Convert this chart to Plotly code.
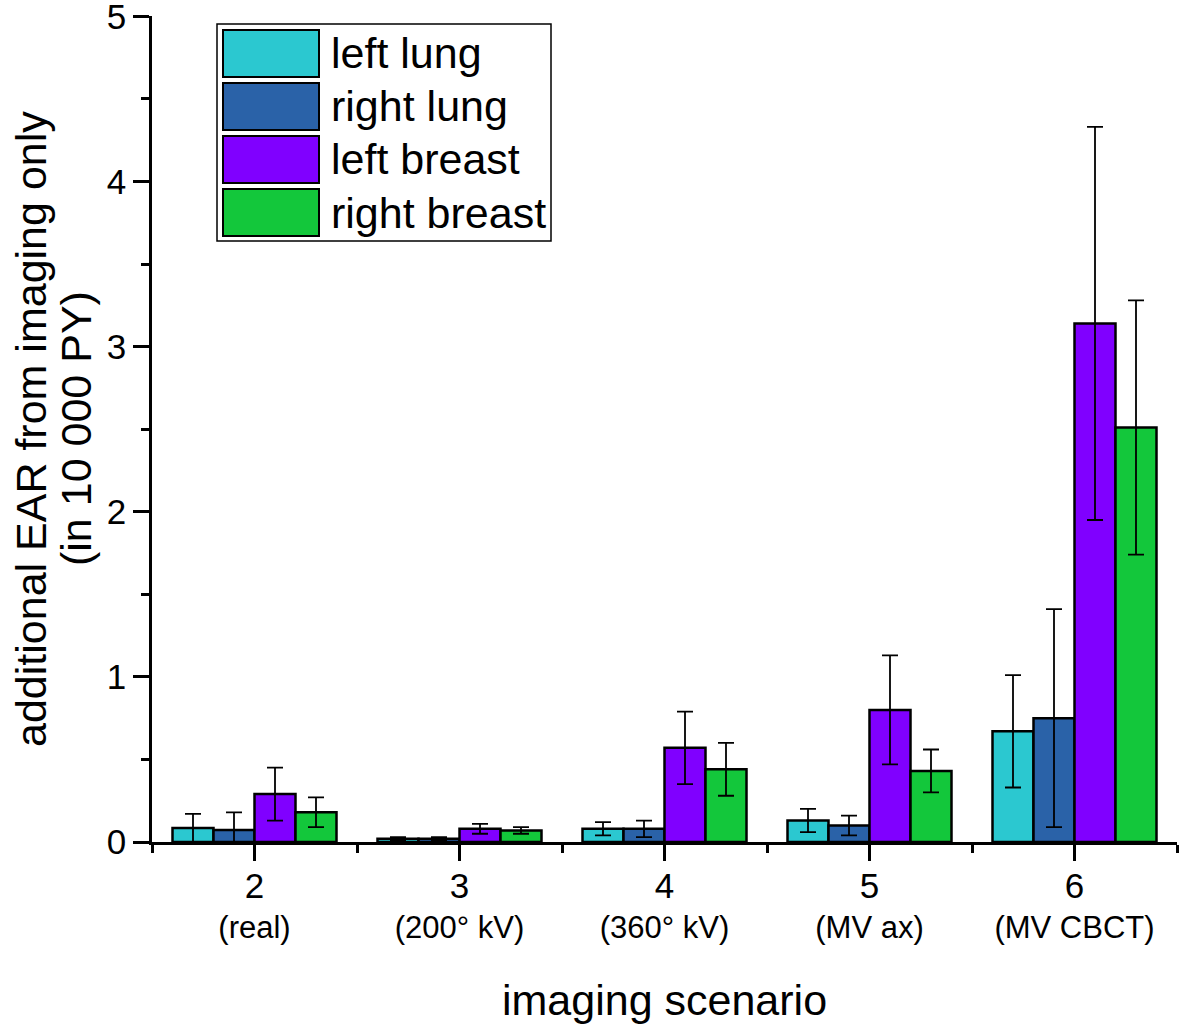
import plotly.graph_objects as go

# ---- data ----
scenarios = [2, 3, 4, 5, 6]
scenario_labels = ["(real)", "(200° kV)", "(360° kV)", "(MV ax)", "(MV CBCT)"]
series_names = ["left lung", "right lung", "left breast", "right breast"]
series_colors = ["#2BC8D0", "#2A62A8", "#8000FF", "#13C73B"]

left_lung = [0.085, 0.02, 0.08, 0.13, 0.67]
left_lung_err = [0.085, 0.01, 0.04, 0.07, 0.34]
right_lung = [0.073, 0.02, 0.08, 0.10, 0.75]
right_lung_err = [0.107, 0.01, 0.05, 0.06, 0.66]
left_breast = [0.29, 0.08, 0.57, 0.80, 3.14]
left_breast_err = [0.16, 0.03, 0.22, 0.33, 1.19]
right_breast = [0.18, 0.07, 0.44, 0.43, 2.51]
right_breast_err = [0.09, 0.02, 0.16, 0.13, 0.77]

values = [left_lung, right_lung, left_breast, right_breast]
errors = [left_lung_err, right_lung_err, left_breast_err, right_breast_err]

FONT = "Liberation Sans, Arial, sans-serif"

W, H = 1181, 1027
# plot area in pixels: x 152..1177, y 16..842
L, T = 152, 16
R = W - 1177
B = H - 842
PW, PH = W - L - R, H - T - B


def px(x):
    """pixel x -> paper coordinate"""
    return (x - L) / PW


def py(y):
    """pixel y -> paper coordinate"""
    return (H - B - y) / PH


fig = go.Figure()
for name, col, v, e in zip(series_names, series_colors, values, errors):
    fig.add_trace(go.Bar(
        x=scenarios, y=v, name=name, showlegend=False,
        marker=dict(color=col, line=dict(color="black", width=2.5)),
        error_y=dict(type="data", array=e, visible=True, color="black",
                     thickness=1.8, width=8),
    ))

ticktext = [f"<span style='font-size:35px'>{s}</span><br>{lab}"
            for s, lab in zip(scenarios, scenario_labels)]

fig.update_layout(
    width=W, height=H,
    margin=dict(l=L, r=R, t=T, b=B, autoexpand=False),
    paper_bgcolor="white", plot_bgcolor="white",
    barmode="group", bargap=0.2, bargroupgap=0,
    font=dict(family=FONT, color="black"),
    xaxis=dict(
        range=[1.5, 6.5], tickvals=scenarios, ticktext=ticktext,
        tickfont=dict(size=31), ticks="outside", ticklen=16, tickwidth=2.5,
        tickcolor="black", showline=True, linewidth=2.5, linecolor="black",
        showgrid=False, zeroline=False, automargin=False,
        minor=dict(ticks="outside", ticklen=8, tickwidth=2.5, tickcolor="black",
                   tick0=1.5, dtick=1, showgrid=False),
    ),
    yaxis=dict(
        range=[0, 5.002], tickvals=[0, 1, 2, 3, 4, 5],
        tickfont=dict(size=35), ticks="outside", ticklen=16, tickwidth=2.5,
        tickcolor="black", showline=True, linewidth=2.5, linecolor="black",
        showgrid=False, zeroline=False, automargin=False,
        ticklabeloverflow="allow",
        minor=dict(ticks="outside", ticklen=8, tickwidth=2.5, tickcolor="black",
                   tick0=0.5, dtick=1, showgrid=False),
    ),
)

# axis titles
fig.add_annotation(text="imaging scenario", xref="paper", yref="paper",
                   x=px(664), y=py(1000), showarrow=False,
                   font=dict(size=43), xanchor="center", yanchor="middle")
fig.add_annotation(text="additional EAR from imaging only", xref="paper", yref="paper",
                   x=px(31), y=py(429), showarrow=False, textangle=-90,
                   font=dict(size=43), xanchor="center", yanchor="middle")
fig.add_annotation(text="(in 10 000 PY)", xref="paper", yref="paper",
                   x=px(76), y=py(429), showarrow=False, textangle=-90,
                   font=dict(size=43), xanchor="center", yanchor="middle")

# legend (custom, large swatches)
fig.add_shape(type="rect", xref="paper", yref="paper",
              x0=px(217), x1=px(551), y0=py(241), y1=py(24),
              line=dict(color="black", width=1.5), fillcolor="white", layer="above")
row_top = 30
pitch = 53
for i, (name, col) in enumerate(zip(series_names, series_colors)):
    t = row_top + i * pitch
    fig.add_shape(type="rect", xref="paper", yref="paper",
                  x0=px(223), x1=px(319), y0=py(t + 47), y1=py(t),
                  line=dict(color="black", width=2), fillcolor=col, layer="above")
    fig.add_annotation(text=name, xref="paper", yref="paper",
                       x=px(329), y=py(t + 23.5), showarrow=False,
                       xanchor="left", yanchor="middle", font=dict(size=43))

fig.write_html("out.html",
               config={"displayModeBar": False},
               post_script="document.body.style.margin='0';document.body.style.overflow='hidden';")
